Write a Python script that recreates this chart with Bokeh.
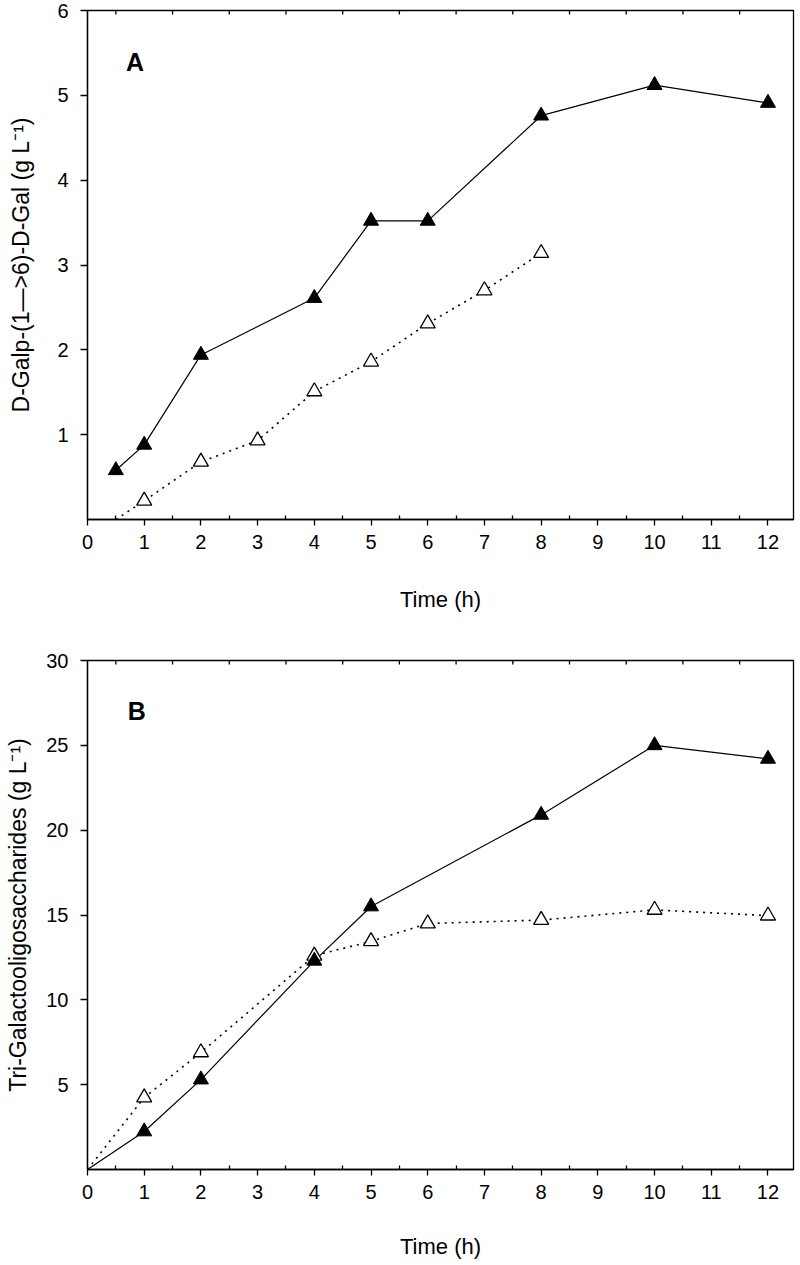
import math
from bokeh.plotting import figure
from bokeh.models import FixedTicker, Range1d, Label, ColumnDataSource
from bokeh.layouts import column
from bokeh.embed import file_html
from bokeh.resources import INLINE

# ---------------- data ----------------
# Panel A: D-Galp-(1->6)-D-Gal (g/L)
time_a_filled = [0.5, 1, 2, 4, 5, 6, 8, 10, 12]
gal_a_filled = [0.58, 0.88, 1.94, 2.61, 3.52, 3.52, 4.76, 5.12, 4.91]
time_a_open = [0.5, 1, 2, 3, 4, 5, 6, 7, 8]
gal_a_open = [0.0, 0.22, 0.68, 0.93, 1.51, 1.86, 2.31, 2.70, 3.14]

# Panel B: Tri-Galactooligosaccharides (g/L)
time_b_filled = [0, 1, 2, 4, 5, 8, 10, 12]
tri_b_filled = [0.0, 2.24, 5.3, 12.3, 15.5, 20.9, 25.0, 24.2]
time_b_open = [0, 1, 2, 4, 5, 6, 8, 10, 12]
tri_b_open = [0.0, 4.24, 6.9, 12.6, 13.45, 14.5, 14.7, 15.3, 14.96]

x_ticks = list(range(0, 13))
x_minor = [i + 0.5 for i in range(0, 12)]
y_ticks_a = [1, 2, 3, 4, 5, 6]
y_ticks_b = [5, 10, 15, 20, 25, 30]

FONT = "Liberation Sans"


def pos_only(xs, ys):
    pairs = [(x, y) for x, y in zip(xs, ys) if y > 0]
    return dict(x=[p[0] for p in pairs], y=[p[1] for p in pairs])


def make_panel(height, ymax, yticks, ylabel, letter, letter_x, letter_y,
               top_border, bottom_border, ystandoff, xstandoff,
               xf, yf, xo, yo):
    p = figure(width=800, height=height, x_range=Range1d(0, 12.45),
               y_range=Range1d(0, ymax), output_backend="svg",
               toolbar_location=None, min_border_left=87, min_border_right=7,
               min_border_top=top_border, min_border_bottom=bottom_border)
    p.xgrid.visible = False
    p.ygrid.visible = False
    p.outline_line_color = "black"
    p.outline_line_width = 1.3
    p.outline_line_alpha = 1.0

    xa = p.xaxis[0]
    xa.ticker = FixedTicker(ticks=x_ticks, minor_ticks=x_minor)
    xa.major_tick_in = 0
    xa.major_tick_out = 6
    xa.minor_tick_in = 4
    xa.minor_tick_out = 0
    xa.axis_line_width = 1.3
    xa.major_tick_line_width = 1.3
    xa.minor_tick_line_width = 1.3
    xa.major_label_standoff = 9
    xa.major_label_text_font = FONT
    xa.major_label_text_font_size = "20px"
    xa.major_label_text_color = "black"
    xa.axis_label = "Time (h)"
    xa.axis_label_text_font = FONT
    xa.axis_label_text_font_size = "22px"
    xa.axis_label_text_font_style = "normal"
    xa.axis_label_text_color = "black"
    xa.axis_label_standoff = xstandoff

    ya = p.yaxis[0]
    ya.ticker = FixedTicker(ticks=yticks, minor_ticks=[])
    ya.major_tick_in = 0
    ya.major_tick_out = 7
    ya.minor_tick_in = 0
    ya.minor_tick_out = 0
    ya.axis_line_width = 1.3
    ya.major_tick_line_width = 1.3
    ya.major_label_standoff = 12
    ya.major_label_text_font = FONT
    ya.major_label_text_font_size = "20px"
    ya.major_label_text_color = "black"
    ya.axis_label = ylabel
    ya.axis_label_text_font = FONT
    ya.axis_label_text_font_size = "23px"
    ya.axis_label_text_font_style = "normal"
    ya.axis_label_text_color = "black"
    ya.axis_label_standoff = ystandoff

    # inward ticks along the top frame edge at the half-hour positions
    p.ray(x=x_minor, y=[ymax] * len(x_minor), length=4, length_units="screen",
          angle=-math.pi / 2, line_color="black", line_width=1.3)

    # lines
    p.line(xf, yf, line_color="black", line_width=1.2)
    p.line(xo, yo, line_color="black", line_width=1.6, line_dash="2 5")

    # markers
    fs = ColumnDataSource(pos_only(xf, yf))
    os_ = ColumnDataSource(pos_only(xo, yo))
    p.scatter("x", "y", source=os_, marker="triangle", size=15,
              fill_color="white", line_color="black", line_width=1.3)
    p.scatter("x", "y", source=fs, marker="triangle", size=15,
              fill_color="black", line_color="black", line_width=1.0)

    p.add_layout(Label(x=letter_x, y=letter_y, text=letter, text_font=FONT,
                       text_font_size="25px", text_font_style="bold",
                       text_color="black", text_baseline="alphabetic"))
    return p


pa = make_panel(640, 6, y_ticks_a, "D-Galp-(1\u2014>6)-D-Gal (g L\u207b\u00b9)",
                "A", 0.68, 5.39, 10, 121, 20, 35,
                time_a_filled, gal_a_filled, time_a_open, gal_a_open)
pb = make_panel(625, 30, y_ticks_b, "Tri-Galactooligosaccharides (g L\u207b\u00b9)",
                "B", 0.71, 27.0, 20, 96, 12, 32,
                time_b_filled, tri_b_filled, time_b_open, tri_b_open)

layout = column(pa, pb, spacing=0)
open("out.html", "w").write(file_html(layout, INLINE))
